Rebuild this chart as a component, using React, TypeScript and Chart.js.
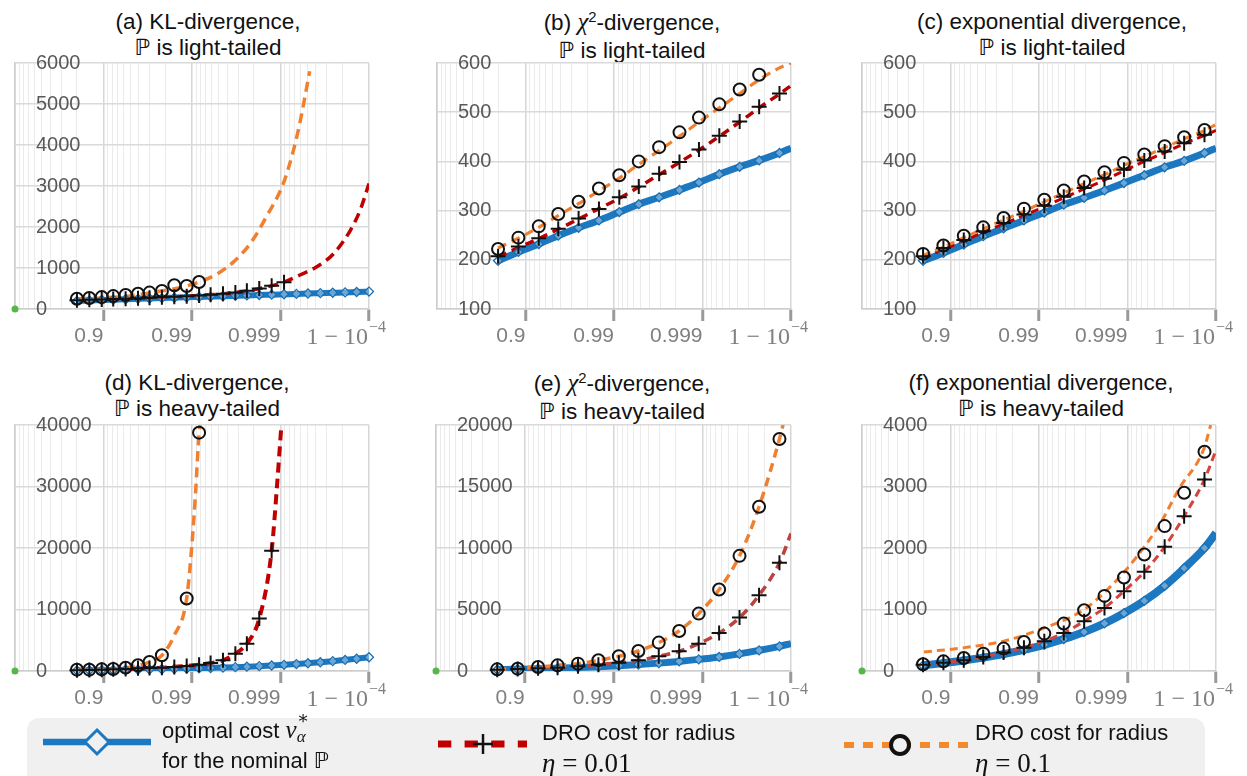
import React, { useEffect, useRef } from 'react';
import { Chart, registerables } from 'chart.js';

Chart.register(...registerables);

const SANS = '"Liberation Sans", Arial, Helvetica, "DejaVu Sans", sans-serif';
const SERIF = '"Liberation Serif", "DejaVu Serif", "Times New Roman", serif';

// ---- x positions: -log10(1 - alpha) ----
const X25 = [0.70, 0.84, 0.98, 1.11, 1.25, 1.39, 1.52, 1.66, 1.80, 1.94, 2.08, 2.21, 2.35, 2.49, 2.62, 2.76, 2.90, 3.04, 3.18, 3.31, 3.45, 3.59, 3.73, 3.86, 4.00];
const X16 = [0.69, 0.92, 1.15, 1.37, 1.60, 1.83, 2.06, 2.28, 2.51, 2.74, 2.96, 3.19, 3.42, 3.64, 3.87, 4.00];
const X_TICK_LABELS = ['', '0.9', '0.99', '0.999', ''];
const LAST_TICK_BASE = '1 − 10';
const LAST_TICK_EXP = '−4';

// ---- (a) KL, light-tailed ----
const A_BLUE_Y = [200, 210, 219, 228, 238, 247, 256, 266, 275, 284, 294, 303, 312, 322, 331, 340, 350, 359, 368, 378, 387, 396, 405, 415, 425];
const A_PLUS = [215, 224, 233, 243, 252, 262, 273, 284, 296, 312, 330, 350, 374, 405, 445, 500, 570, 655];
const A_CIRCLE = [250, 268, 290, 315, 342, 372, 400, 440, 580, 562, 660];
const A_RED_X = [0.70, 1.00, 1.30, 1.60, 1.90, 2.20, 2.50, 2.80, 3.04, 3.22, 3.41, 3.60, 3.79, 3.90, 4.00];
const A_RED_Y = [212, 236, 260, 282, 308, 348, 405, 515, 655, 830, 1030, 1350, 1920, 2410, 3060];
const A_ORANGE_X = [0.70, 1.00, 1.30, 1.60, 1.90, 2.08, 2.28, 2.47, 2.66, 2.84, 3.03, 3.15, 3.22, 3.33];
const A_ORANGE_Y = [245, 272, 320, 420, 540, 660, 850, 1150, 1600, 2250, 3050, 3900, 4550, 5800];

// ---- (b) chi2, light-tailed ----
const B_BLUE_Y = [198, 216, 232, 249, 265, 280, 297, 313, 327, 342, 357, 374, 389, 402, 417, 427];
const B_PLUS = [207, 227, 244, 263, 284, 303, 327, 349, 375, 399, 424, 452, 481, 511, 538];
const B_CIRCLE = [222, 245, 268, 293, 318, 345, 372, 400, 429, 459, 489, 516, 546, 576];
const B_RED_Y = [206, 225, 243, 262, 283, 304, 325, 348, 373, 398, 423, 451, 480, 509, 537, 554];
const B_ORANGE_Y = [224, 244, 266, 290, 314, 340, 366, 394, 422, 451, 480, 509, 538, 566, 590, 600];

// ---- (c) exponential, light-tailed ----
const C_BLUE_Y = [198, 214, 231, 248, 264, 280, 296, 312, 326, 341, 356, 372, 388, 401, 417, 427];
const C_PLUS = [207, 224, 240, 258, 275, 292, 310, 328, 346, 365, 383, 402, 420, 437, 454];
const C_CIRCLE = [212, 229, 249, 266, 285, 304, 322, 341, 359, 378, 397, 414, 431, 449, 464];
const C_RED_Y = [204, 221, 238, 256, 273, 290, 308, 326, 344, 362, 381, 400, 418, 436, 453, 463];
const C_ORANGE_Y = [209, 226, 245, 263, 281, 299, 318, 336, 355, 373, 392, 410, 428, 446, 463, 475];

// ---- (d) KL, heavy-tailed ----
const D_BLUE_Y = [93, 113, 138, 162, 190, 222, 252, 290, 333, 380, 432, 490, 553, 625, 700, 788, 893, 1005, 1130, 1265, 1420, 1600, 1800, 1985, 2230];
const D_PLUS = [109, 163, 217, 271, 326, 434, 488, 543, 651, 814, 1031, 1303, 1737, 2822, 4450, 8521, 19540];
const D_CIRCLE_X = [0.70, 0.84, 0.98, 1.11, 1.25, 1.39, 1.52, 1.66, 1.94, 2.08];
const D_CIRCLE_Y = [217, 217, 271, 326, 543, 923, 1465, 2551, 11777, 38752];
const D_RED_X = [0.70, 1.25, 1.66, 1.94, 2.21, 2.35, 2.49, 2.62, 2.76, 2.90, 2.96, 3.01];
const D_RED_Y = [110, 330, 540, 810, 1300, 1740, 2820, 4450, 8520, 19540, 30000, 40000];
const D_ORANGE_X = [0.70, 1.11, 1.39, 1.52, 1.66, 1.80, 1.94, 2.00, 2.04, 2.08, 2.09];
const D_ORANGE_Y = [210, 320, 900, 1450, 2550, 5800, 11800, 20700, 28900, 38750, 40000];

// ---- (e) chi2, heavy-tailed ----
const E_BLUE_Y = [100, 140, 182, 228, 285, 352, 432, 525, 640, 780, 945, 1145, 1390, 1675, 2005, 2230];
const E_RED_Y = [109, 163, 217, 271, 380, 516, 678, 868, 1194, 1601, 2225, 3094, 4342, 6160, 8792, 11180];
const E_ORANGE_X = [0.69, 0.92, 1.15, 1.37, 1.60, 1.83, 2.06, 2.28, 2.51, 2.74, 2.96, 3.19, 3.42, 3.64, 3.87, 3.91];
const E_ORANGE_Y = [136, 190, 326, 461, 597, 868, 1194, 1628, 2307, 3256, 4667, 6621, 9362, 13351, 18860, 20000];

// ---- (f) exponential, heavy-tailed ----
const F_BLUE_Y = [92, 128, 170, 218, 275, 343, 425, 520, 635, 775, 940, 1140, 1385, 1670, 2000, 2245];
const F_RED_Y = [100, 135, 174, 228, 299, 380, 483, 619, 809, 1026, 1297, 1612, 2019, 2518, 3115, 3593];
const F_CIRCLE = [109, 157, 212, 282, 364, 472, 608, 771, 988, 1221, 1520, 1894, 2356, 2898, 3566];
const F_ORANGE_X = [0.70, 1.16, 1.61, 2.06, 2.51, 2.84, 3.10, 3.37, 3.59, 3.86, 3.94];
const F_ORANGE_Y = [310, 380, 490, 700, 1000, 1420, 1850, 2400, 2980, 3600, 4000];

// ---- y-axis ranges [min, max, step] ----
const A_Y = [0, 6000, 1000];
const B_Y = [100, 600, 100];
const C_Y = [100, 600, 100];
const D_Y = [0, 40000, 10000];
const E_Y = [0, 20000, 5000];
const F_Y = [0, 4000, 1000];

const BLUE = '#1c78c0';
const ORANGE = '#f0802f';

const PADL = 10, PADT = 20, PADR = 30, XAXIS_H = 45;

const X_GRID: number[] = (() => {
  const g = [0];
  for (let n = 0; n < 4; n++) {
    for (let k = 9; k >= 2; k--) g.push(n + 1 - Math.log10(k));
    g.push(n + 1);
  }
  return g;
})();
const isMajor = (v: number) => Math.abs(v - Math.round(v)) < 1e-6;

const pts = (xs: number[], ys: number[]) => ys.map((y, i) => ({ x: xs[i], y }));

const Chi = () => (
  <>
    <span style={{ fontFamily: SERIF, fontStyle: 'italic', fontSize: '1.1em' }}>χ</span>
    <span style={{ fontSize: '0.66em', position: 'relative', top: '-0.55em' }}>2</span>
  </>
);

const PANELS: any[] = [
  {
    id: 'a', box: { L: 15, T: 63, W: 354, H: 246 }, yr: A_Y, green: true,
    t1: <>(a) KL-divergence,</>, t2: 'ℙ is light-tailed', tcx: 208, ttop: 9,
    blue: [X25, A_BLUE_Y], diamond: [X25, A_BLUE_Y], red: [A_RED_X, A_RED_Y], plus: [X25, A_PLUS],
    orange: [A_ORANGE_X, A_ORANGE_Y], circle: [X25, A_CIRCLE],
    st: { blueW: 6, redC: '#c00000', redW: 3.5, orangeW: 3.5, dash: [10, 6] },
  },
  {
    id: 'b', box: { L: 437, T: 63, W: 354, H: 246 }, yr: B_Y, green: false,
    t1: <>(b) <Chi />-divergence,</>, t2: 'ℙ is light-tailed', tcx: 632, ttop: 9,
    blue: [X16, B_BLUE_Y], diamond: [X16, B_BLUE_Y.slice(0, 15)], red: [X16, B_RED_Y], plus: [X16, B_PLUS],
    orange: [X16, B_ORANGE_Y], circle: [X16, B_CIRCLE],
    st: { blueW: 7, redC: '#b30000', redW: 3.5, orangeW: 3.2, dash: [9, 6] },
  },
  {
    id: 'c', box: { L: 862, T: 63, W: 354, H: 246 }, yr: C_Y, green: false,
    t1: <>(c) exponential divergence,</>, t2: 'ℙ is light-tailed', tcx: 1052, ttop: 9,
    blue: [X16, C_BLUE_Y], diamond: [X16, C_BLUE_Y.slice(0, 15)], red: [X16, C_RED_Y], plus: [X16, C_PLUS],
    orange: [X16, C_ORANGE_Y], circle: [X16, C_CIRCLE],
    st: { blueW: 7, redC: '#c00000', redW: 3, orangeW: 3, dash: [8, 5] },
  },
  {
    id: 'd', box: { L: 15, T: 425, W: 354, H: 246 }, yr: D_Y, green: true,
    t1: <>(d) KL-divergence,</>, t2: 'ℙ is heavy-tailed', tcx: 197, ttop: 370,
    blue: [X25, D_BLUE_Y], diamond: [X25, D_BLUE_Y], red: [D_RED_X, D_RED_Y], plus: [X25, D_PLUS],
    orange: [D_ORANGE_X, D_ORANGE_Y], circle: [D_CIRCLE_X, D_CIRCLE_Y],
    st: { blueW: 6, redC: '#c00000', redW: 4, orangeW: 3.5, dash: [10, 6] },
  },
  {
    id: 'e', box: { L: 436, T: 425, W: 355, H: 246 }, yr: E_Y, green: true,
    t1: <>(e) <Chi />-divergence,</>, t2: 'ℙ is heavy-tailed', tcx: 622, ttop: 370,
    blue: [X16, E_BLUE_Y], diamond: [X16, E_BLUE_Y.slice(0, 15)], red: [X16, E_RED_Y], plus: [X16, E_RED_Y.slice(0, 15)],
    orange: [E_ORANGE_X, E_ORANGE_Y], circle: [E_ORANGE_X, E_ORANGE_Y.slice(0, 15)],
    st: { blueW: 7, redC: '#b8433f', redW: 3.5, orangeW: 3.5, dash: [9, 6] },
  },
  {
    id: 'f', box: { L: 862, T: 425, W: 354, H: 246 }, yr: F_Y, green: true,
    t1: <>(f) exponential divergence,</>, t2: 'ℙ is heavy-tailed', tcx: 1041, ttop: 370,
    blue: [X16, F_BLUE_Y], diamond: [X16, F_BLUE_Y.slice(0, 15)], red: [X16, F_RED_Y], plus: [X16, F_RED_Y.slice(0, 15)],
    orange: [F_ORANGE_X, F_ORANGE_Y], circle: [X16, F_CIRCLE],
    st: { blueW: 8, redC: '#d4433d', redW: 3, orangeW: 3, dash: [8, 5] },
  },
];

function curve(data: any[], color: string, width: number, dash: number[]) {
  return {
    data, borderColor: color, borderWidth: width, borderDash: dash, pointRadius: 0,
    fill: false, cubicInterpolationMode: 'monotone', borderCapStyle: 'butt', borderJoinStyle: 'round',
  };
}
function marker(data: any[], style: string, r: number, edge: string, fill: string, w: number) {
  return {
    data, showLine: false, pointStyle: style, pointRadius: r, pointBorderColor: edge,
    pointBackgroundColor: fill, pointBorderWidth: w, clip: false,
  };
}

// draws the last x tick label "1 − 10^−4" with a real superscript, at the scale's pixel for x = 4
const lastTickLabel = {
  id: 'lastTickLabel',
  afterDraw(chart: any) {
    const xs = chart.scales.x;
    const ctx = chart.ctx;
    const px = xs.getPixelForValue(4);
    const y = xs.top + 12 + 3 + 14;
    ctx.save();
    ctx.fillStyle = '#808080';
    ctx.textBaseline = 'middle';
    ctx.font = `24px ${SERIF}`;
    ctx.textAlign = 'right';
    ctx.fillText(LAST_TICK_BASE, px - 1, y);
    ctx.font = `16px ${SERIF}`;
    ctx.textAlign = 'left';
    ctx.fillText(LAST_TICK_EXP, px, y - 10);
    ctx.restore();
  },
};

function buildConfig(p: any): any {
  const s = p.st;
  const datasets: any[] = [];
  if (p.green) {
    datasets.push({ data: [{ x: 0, y: 0 }], showLine: false, pointRadius: 3.5, pointBackgroundColor: '#55b64a', pointBorderWidth: 0, clip: false });
  }
  datasets.push(marker(pts(p.circle[0], p.circle[1]), 'circle', 6, '#111', 'rgba(0,0,0,0)', 2));
  datasets.push(marker(pts(p.plus[0], p.plus[1]), 'cross', 7.5, '#111', '#111', 2));
  datasets.push(marker(pts(p.diamond[0], p.diamond[1]), 'rectRot', 4.5, '#1a6fb3', 'rgba(255,255,255,0.35)', 1.3));
  datasets.push(curve(pts(p.orange[0], p.orange[1]), ORANGE, s.orangeW, s.dash));
  datasets.push(curve(pts(p.red[0], p.red[1]), s.redC, s.redW, s.dash));
  datasets.push(curve(pts(p.blue[0], p.blue[1]), BLUE, s.blueW, []));

  return {
    type: 'line',
    data: { datasets },
    plugins: [lastTickLabel],
    options: {
      animation: false,
      responsive: false,
      devicePixelRatio: 1,
      events: [],
      layout: { padding: { left: PADL, top: PADT, right: PADR, bottom: 0 } },
      plugins: { legend: { display: false }, tooltip: { enabled: false }, title: { display: false } },
      scales: {
        x: {
          type: 'linear', min: 0, max: 4,
          afterBuildTicks: (sc: any) => { sc.ticks = X_GRID.map((v) => ({ value: v })); },
          afterFit: (sc: any) => { sc.height = XAXIS_H; sc.paddingLeft = 0; sc.paddingRight = 0; },
          grid: {
            color: (c: any) => (c.tick && isMajor(c.tick.value) ? '#d6d6d6' : '#ebebeb'),
            lineWidth: (c: any) => (c.tick && isMajor(c.tick.value) ? 1.5 : 1),
            drawTicks: true, tickLength: 12,
            tickColor: (c: any) => (c.tick && isMajor(c.tick.value) && c.tick.value > 0 ? '#9a9a9a' : 'rgba(0,0,0,0)'),
            tickWidth: (c: any) => (c.tick && isMajor(c.tick.value) && c.tick.value > 0 ? 3 : 0),
          },
          border: { display: true, color: '#cdcdcd', width: 1.5 },
          ticks: {
            autoSkip: false, maxRotation: 0, minRotation: 0, align: 'end', padding: 3, color: '#808080',
            font: { family: SANS, size: 21 },
            callback: (v: number) => (isMajor(v) ? X_TICK_LABELS[Math.round(v)] : ''),
          },
        },
        y: {
          type: 'linear', min: p.yr[0], max: p.yr[1],
          afterFit: (sc: any) => { sc.width = 0; sc.paddingTop = 0; sc.paddingBottom = 0; },
          grid: { drawTicks: false, color: '#dadada', lineWidth: 1.5 },
          border: { display: true, color: '#cdcdcd', width: 1.5 },
          ticks: {
            stepSize: p.yr[2], mirror: true, crossAlign: 'near', padding: 21, color: '#585858',
            font: { family: SANS, size: 20 },
            callback: (v: number) => String(v),
          },
        },
      },
    },
  };
}

function Panel({ p }: { p: any }) {
  const ref = useRef<HTMLCanvasElement>(null);
  const cw = p.box.W + PADL + PADR;
  const ch = p.box.H + PADT + XAXIS_H;
  useEffect(() => {
    if (!ref.current) return;
    const chart = new Chart(ref.current, buildConfig(p));
    return () => chart.destroy();
  }, []);
  return (
    <canvas
      ref={ref}
      width={cw}
      height={ch}
      style={{ position: 'absolute', left: p.box.L - PADL, top: p.box.T - PADT, width: cw, height: ch }}
    />
  );
}

function Title({ p }: { p: any }) {
  return (
    <div
      style={{
        position: 'absolute', left: p.tcx - 230, width: 460, top: p.ttop, textAlign: 'center',
        font: `22.5px ${SANS}`, lineHeight: '26px', color: '#111', whiteSpace: 'nowrap',
      }}
    >
      <div>{p.t1}</div>
      <div>{p.t2}</div>
    </div>
  );
}

function Legend() {
  const bg = '#f0f0f0';
  return (
    <>
      <div style={{ position: 'absolute', left: 27, top: 718, width: 1178, height: 58, background: bg, borderRadius: '12px 12px 0 0' }} />
      <svg width={1247} height={76} style={{ position: 'absolute', left: 0, top: 700 }}>
        <line x1={43} y1={42} x2={151} y2={42} stroke={BLUE} strokeWidth={6.5} />
        <polygon points="97,30 109,42 97,54 85,42" fill={bg} stroke={BLUE} strokeWidth={3} />
        <line x1={438} y1={44} x2={527} y2={44} stroke="#c00000" strokeWidth={7} strokeDasharray="13.3 13.3" />
        <line x1={473} y1={44} x2={493} y2={44} stroke="#111" strokeWidth={2.5} />
        <line x1={483} y1={34} x2={483} y2={54} stroke="#111" strokeWidth={2.5} />
        <line x1={844} y1={45} x2={975} y2={45} stroke="#f28a2c" strokeWidth={6} strokeDasharray="10 9" />
        <circle cx={900} cy={45} r={9} fill={bg} stroke="#111" strokeWidth={4} />
      </svg>
      <div style={{ position: 'absolute', left: 162, top: 715, font: `22px ${SANS}`, lineHeight: '30px', color: '#111', whiteSpace: 'nowrap' }}>
        <div>
          optimal cost{' '}
          <span style={{ fontFamily: SERIF, fontStyle: 'italic', fontSize: 25 }}>v</span>
          <span style={{ display: 'inline-block', position: 'relative', width: 14, height: 10 }}>
            <span style={{ position: 'absolute', left: 0, top: -20, fontSize: 18, fontFamily: SERIF, lineHeight: '20px' }}>∗</span>
            <span style={{ position: 'absolute', left: 0, top: -1, fontSize: 17, fontFamily: SERIF, fontStyle: 'italic', lineHeight: '20px' }}>α</span>
          </span>
        </div>
        <div>for the nominal ℙ</div>
      </div>
      <div style={{ position: 'absolute', left: 542, top: 718, font: `22px ${SANS}`, lineHeight: '30px', color: '#111', whiteSpace: 'nowrap' }}>
        <div>DRO cost for radius</div>
        <div style={{ font: `27px ${SERIF}`, lineHeight: '30px' }}><i>η</i> = 0.01</div>
      </div>
      <div style={{ position: 'absolute', left: 975, top: 718, font: `22px ${SANS}`, lineHeight: '30px', color: '#111', whiteSpace: 'nowrap' }}>
        <div>DRO cost for radius</div>
        <div style={{ font: `27px ${SERIF}`, lineHeight: '30px' }}><i>η</i> = 0.1</div>
      </div>
    </>
  );
}

export default function App() {
  return (
    <div style={{ position: 'absolute', left: 0, top: 0, width: 1247, height: 776, overflow: 'hidden', background: '#fff' }}>
      {PANELS.map((p) => <Title key={'t' + p.id} p={p} />)}
      {PANELS.map((p) => <Panel key={p.id} p={p} />)}
      <Legend />
    </div>
  );
}
